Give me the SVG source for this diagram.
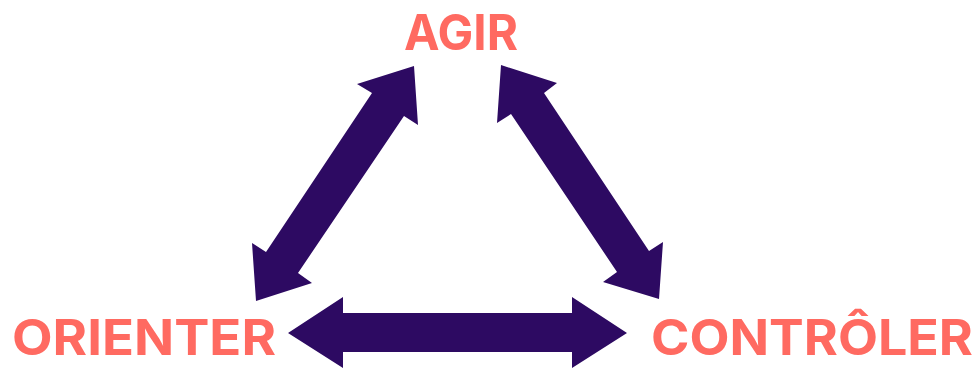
<svg xmlns="http://www.w3.org/2000/svg" width="979" height="369" viewBox="0 0 979 369">
  <style>
    .lbl { font-family: Inter, "Liberation Sans", Arial, sans-serif; font-weight: 700; font-size: 49px; fill: #FF6A61; }
    .arr { fill: #2D0A62; }
  </style>
  <rect width="979" height="369" fill="#ffffff"/>
  <g id="connectors">
    <polygon class="arr" points="414,66 357,84 372,93 266,252 252,243 256,301 312,283 298,273 404,116 418,125"/>
    <polygon class="arr" points="501,65 557,83 544,93 649,251 663,242 659,299 603,282 617,272 511,114 497,123"/>
    <polygon class="arr" points="288,333 343,297 343,313 572,313 572,297 627,333 572,368 572,352 343,352 343,368"/>
  </g>
  <g id="node-agir">
    <text class="lbl" x="404" y="50" textLength="114" lengthAdjust="spacingAndGlyphs">AGIR</text>
  </g>
  <g id="node-orienter">
    <text class="lbl" x="12" y="355" textLength="264" lengthAdjust="spacingAndGlyphs">ORIENTER</text>
  </g>
  <g id="node-controler">
    <text class="lbl" x="651" y="355" textLength="322" lengthAdjust="spacingAndGlyphs">CONTRÔLER</text>
  </g>
</svg>
